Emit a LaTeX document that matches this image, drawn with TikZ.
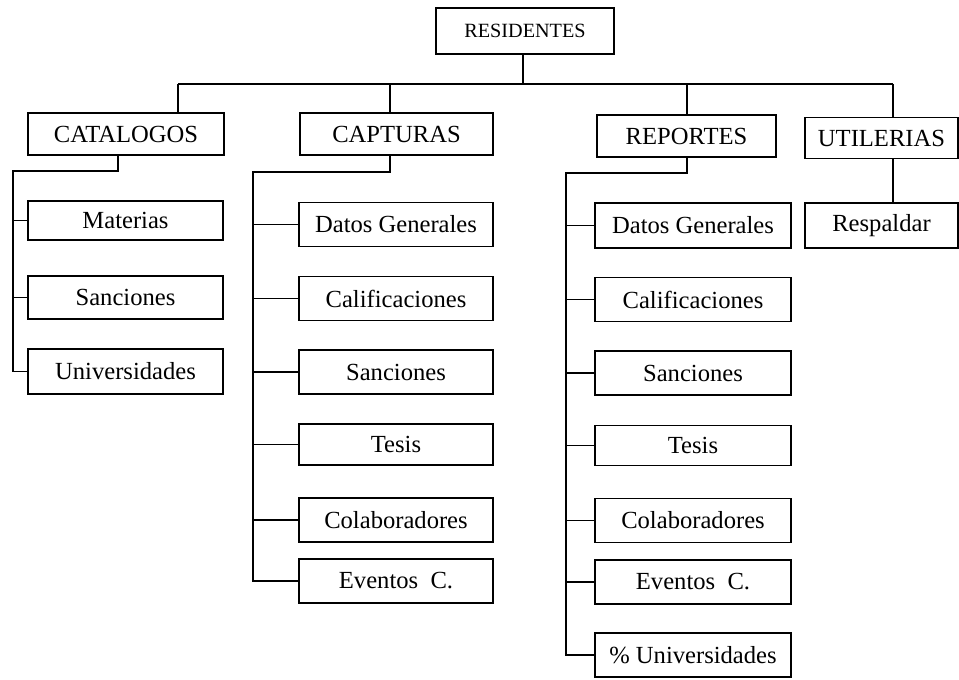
\documentclass[tikz,border=0pt]{standalone}
\usepackage{fontspec}
\setmainfont{Liberation Serif}

\begin{document}
\begin{tikzpicture}[x=0.02cm, y=-0.02cm, line width=1pt,
        box/.style={rectangle, draw, inner sep=0pt, font=\fontsize{14}{16}\selectfont, align=center},
        head/.style={box, minimum height=0.84cm},
        catitem/.style={box, minimum width=3.9cm, minimum height=0.86cm},
        capitem/.style={box, minimum width=3.88cm, minimum height=0.88cm},
        repitem/.style={box, minimum width=3.92cm, minimum height=0.88cm}]
        \useasboundingbox (0,0) rectangle (959,679);

        \node[box, minimum width=3.56cm, minimum height=0.92cm, font=\fontsize{11.5}{13}\selectfont] (residentes) at (525,31) {RESIDENTES};

        \node[head, minimum width=3.92cm] (catalogos) at (126,134) {CATALOGOS};
        \node[head, minimum width=3.86cm] (capturas)  at (396.5,134) {CAPTURAS};
        \node[head, minimum width=3.58cm] (reportes)  at (686.5,136) {REPORTES};
        \node[head, minimum width=3.06cm, minimum height=0.82cm] (utilerias) at (881.5,138) {UTILERIAS};

        \node[catitem, minimum height=0.78cm] (materias) at (125.5,220.5) {Materias};
        \node[catitem] (catsanciones)  at (125.5,297.5) {Sanciones};
        \node[catitem, minimum height=0.9cm] (universidades) at (125.5,371.5) {Universidades};

        \node[capitem] (capdatos)     at (396,224.5) {Datos Generales};
        \node[capitem] (capcalif)     at (396,298.5) {Calificaciones};
        \node[capitem] (capsanciones) at (396,372)   {Sanciones};
        \node[capitem, minimum height=0.82cm] (captesis) at (396,444.5) {Tesis};
        \node[capitem] (capcolab)     at (396,520)   {Colaboradores};
        \node[capitem] (capeventos)   at (396,581)   {Eventos\enspace C.};

        \node[repitem, minimum height=0.9cm] (repdatos) at (693,225.5) {Datos Generales};
        \node[repitem] (repcalif)     at (693,299.5) {Calificaciones};
        \node[repitem] (repsanciones) at (693,373)   {Sanciones};
        \node[repitem, minimum height=0.8cm] (reptesis) at (693,445.5) {Tesis};
        \node[repitem] (repcolab)     at (693,520.5) {Colaboradores};
        \node[repitem] (repeventos)   at (693,582)   {Eventos\enspace C.};
        \node[repitem] (repuniv)      at (693,655)   {\% Universidades};

        \node[box, minimum width=3.06cm, minimum height=0.9cm] (respaldar) at (881.5,225.5) {Respaldar};

        \coordinate (bus)      at (523,84);
        \coordinate (catdrop)  at (178,84);
        \coordinate (capdrop)  at (390,84);
        \coordinate (repdrop)  at (687,84);
        \coordinate (utildrop) at (893,84);

        \draw (residentes.south -| bus) -- (bus);
        \draw (catdrop) -- (utildrop);
        \draw (catdrop) -- (catdrop |- catalogos.north);
        \draw (capdrop) -- (capdrop |- capturas.north);
        \draw (repdrop) -- (repdrop |- reportes.north);
        \draw (utildrop) -- (utildrop |- utilerias.north);
        \draw (utildrop |- utilerias.south) -- (utildrop |- respaldar.north);

        \coordinate (catknee) at (118,171);
        \coordinate (catrail) at (13,171);
        \coordinate (capknee) at (390,172);
        \coordinate (caprail) at (253,172);
        \coordinate (repknee) at (687,173);
        \coordinate (reprail) at (566,173);

        \draw (catknee |- catalogos.south) -- (catknee) -- (catrail) |- (universidades.west);
        \draw (catrail |- materias.west) -- (materias.west);
        \draw (catrail |- catsanciones.west) -- (catsanciones.west);

        \draw (capknee |- capturas.south) -- (capknee) -- (caprail) |- (capeventos.west);
        \draw (caprail |- capdatos.west) -- (capdatos.west);
        \draw (caprail |- capcalif.west) -- (capcalif.west);
        \draw (caprail |- capsanciones.west) -- (capsanciones.west);
        \draw (caprail |- captesis.west) -- (captesis.west);
        \draw (caprail |- capcolab.west) -- (capcolab.west);

        \draw (repknee |- reportes.south) -- (repknee) -- (reprail) |- (repuniv.west);
        \draw (reprail |- repdatos.west) -- (repdatos.west);
        \draw (reprail |- repcalif.west) -- (repcalif.west);
        \draw (reprail |- repsanciones.west) -- (repsanciones.west);
        \draw (reprail |- reptesis.west) -- (reptesis.west);
        \draw (reprail |- repcolab.west) -- (repcolab.west);
        \draw (reprail |- repeventos.west) -- (repeventos.west);
\end{tikzpicture}
\end{document}
